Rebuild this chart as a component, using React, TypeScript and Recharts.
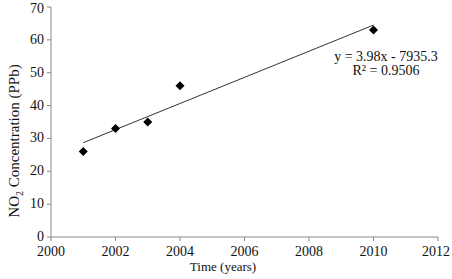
import { ComposedChart, Scatter, XAxis, YAxis } from 'recharts'

const years = [2001, 2002, 2003, 2004, 2010]
const no2 = [26, 33, 35, 46, 63]
const trendYears = [2001, 2010]
const trendValues = [28.7, 64.5]
const xTicks = [2000, 2002, 2004, 2006, 2008, 2010, 2012]
const yTicks = [0, 10, 20, 30, 40, 50, 60, 70]

const points = years.map((year, i) => ({ year, value: no2[i] }))
const trend = trendYears.map((year, i) => ({ year, value: trendValues[i] }))

const font = '"Liberation Serif", "Times New Roman", serif'

const Diamond = (props: any) => {
  const { cx, cy } = props
  return <polygon points={`${cx},${cy - 4.5} ${cx + 4.5},${cy} ${cx},${cy + 4.5} ${cx - 4.5},${cy}`} fill="#000" />
}

const XTick = ({ x, y, payload }: any) => (
  <text x={x} y={y + 13} textAnchor="middle" style={{ fontFamily: font, fontSize: 14 }} fill="#111">
    {payload.value}
  </text>
)

const YTick = ({ x, y, payload }: any) => (
  <text x={x - 1} y={y + 4} textAnchor="end" style={{ fontFamily: font, fontSize: 14 }} fill="#111">
    {payload.value}
  </text>
)

export default function App() {
  return (
    <div style={{ position: 'absolute', left: 0, top: 0, width: 452, height: 279, background: '#fff', fontFamily: font }}>
      <ComposedChart width={452} height={279} margin={{ top: 7, right: 14, bottom: 0, left: 0 }}>
        <XAxis
          type="number"
          dataKey="year"
          domain={[2000, 2012]}
          ticks={xTicks}
          tick={XTick}
          tickSize={4}
          stroke="#888"
          height={42}
        />
        <YAxis
          type="number"
          dataKey="value"
          domain={[0, 70]}
          ticks={yTicks}
          tick={YTick}
          tickSize={4}
          stroke="#888"
          width={51}
        />
        <Scatter data={trend} line={{ stroke: '#333', strokeWidth: 1 }} shape={() => <g />} isAnimationActive={false} />
        <Scatter data={points} shape={Diamond} isAnimationActive={false} />
      </ComposedChart>
      <div style={{ position: 'absolute', left: 0, top: 141, width: 30, height: 0 }}>
        <div style={{ position: 'absolute', left: 15, top: 0, transform: 'translate(-50%, -50%) rotate(-90deg)', whiteSpace: 'nowrap', fontSize: 15, color: '#111' }}>
          NO<sub style={{ fontSize: 10 }}>2</sub> Concentration (PPb)
        </div>
      </div>
      <div style={{ position: 'absolute', left: 223, top: 266, transform: 'translate(-50%, -50%)', whiteSpace: 'nowrap', fontSize: 13, lineHeight: '13px', color: '#111' }}>
        Time (years)
      </div>
      <div style={{ position: 'absolute', left: 386, top: 50, transform: 'translateX(-50%)', whiteSpace: 'nowrap', fontSize: 14, lineHeight: '14px', color: '#111', textAlign: 'center' }}>
        <div>y = 3.98x - 7935.3</div>
        <div>R² = 0.9506</div>
      </div>
    </div>
  )
}
